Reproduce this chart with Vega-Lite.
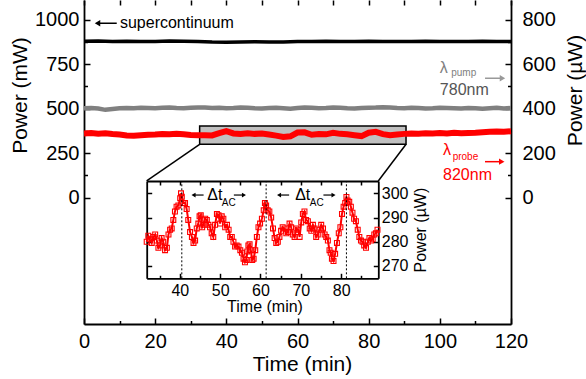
{
  "$schema": "https://vega.github.io/schema/vega-lite/v6.json",
  "width": 427,
  "height": 324,
  "autosize": {"type": "none"},
  "padding": {"left": 84, "top": 0, "right": 75, "bottom": 55},
  "background": "white",
  "config": {
    "view": {"stroke": null},
    "font": "Liberation Sans",
    "axis": {"grid": false, "domainColor": "black", "domainWidth": 1.8, "tickColor": "black", "tickWidth": 1.5, "labelColor": "black", "titleColor": "black", "titleFontWeight": "normal", "labelFont": "Liberation Sans", "titleFont": "Liberation Sans", "labelOverlap": false, "labelFlush": false, "labelBound": false},
    "text": {"font": "Liberation Sans"}
  },
  "datasets": {
    "black": [
      {"t":0,"p":878},{"t":4,"p":879},{"t":8,"p":877},{"t":12,"p":878},{"t":16,"p":876},{"t":20,"p":877},{"t":24,"p":879},{"t":28,"p":878},{"t":32,"p":876},{"t":36,"p":873},{"t":40,"p":872},{"t":44,"p":874},{"t":48,"p":875},{"t":52,"p":873},{"t":56,"p":874},{"t":60,"p":876},{"t":64,"p":877},{"t":68,"p":878},{"t":72,"p":876},{"t":76,"p":877},{"t":80,"p":878},{"t":84,"p":877},{"t":88,"p":876},{"t":92,"p":877},{"t":96,"p":878},{"t":100,"p":877},{"t":104,"p":876},{"t":108,"p":877},{"t":112,"p":878},{"t":116,"p":877},{"t":120,"p":876}
    ],
    "gray": [
      {"t":0,"p":401},{"t":2,"p":402},{"t":4,"p":400},{"t":6,"p":394},{"t":8,"p":398},{"t":10,"p":401},{"t":12,"p":402},{"t":14,"p":401},{"t":16,"p":403},{"t":18,"p":402},{"t":20,"p":401},{"t":22,"p":403},{"t":24,"p":404},{"t":26,"p":402},{"t":28,"p":401},{"t":30,"p":403},{"t":32,"p":405},{"t":34,"p":404},{"t":36,"p":402},{"t":38,"p":403},{"t":40,"p":401},{"t":42,"p":402},{"t":44,"p":404},{"t":46,"p":403},{"t":48,"p":401},{"t":50,"p":400},{"t":52,"p":402},{"t":54,"p":403},{"t":56,"p":401},{"t":58,"p":399},{"t":60,"p":402},{"t":62,"p":404},{"t":64,"p":403},{"t":66,"p":401},{"t":68,"p":402},{"t":70,"p":404},{"t":72,"p":403},{"t":74,"p":401},{"t":76,"p":400},{"t":78,"p":402},{"t":80,"p":403},{"t":82,"p":404},{"t":84,"p":406},{"t":86,"p":404},{"t":88,"p":402},{"t":90,"p":401},{"t":92,"p":403},{"t":94,"p":402},{"t":96,"p":400},{"t":98,"p":401},{"t":100,"p":403},{"t":102,"p":402},{"t":104,"p":401},{"t":106,"p":400},{"t":108,"p":402},{"t":110,"p":401},{"t":112,"p":399},{"t":114,"p":401},{"t":116,"p":403},{"t":118,"p":400},{"t":120,"p":402}
    ],
    "red": [
      {"t":0,"p":288},{"t":2,"p":290},{"t":4,"p":287},{"t":6,"p":289},{"t":8,"p":285},{"t":10,"p":283},{"t":12,"p":279},{"t":14,"p":278},{"t":16,"p":280},{"t":18,"p":282},{"t":20,"p":283},{"t":22,"p":285},{"t":24,"p":284},{"t":26,"p":286},{"t":28,"p":284},{"t":30,"p":281},{"t":32,"p":280},{"t":34,"p":280},{"t":36,"p":279},{"t":38,"p":289},{"t":40,"p":298},{"t":42,"p":288},{"t":44,"p":285},{"t":46,"p":289},{"t":48,"p":286},{"t":50,"p":288},{"t":52,"p":283},{"t":54,"p":278},{"t":56,"p":272},{"t":58,"p":275},{"t":60,"p":292},{"t":62,"p":293},{"t":64,"p":282},{"t":66,"p":285},{"t":68,"p":284},{"t":70,"p":291},{"t":72,"p":286},{"t":74,"p":284},{"t":76,"p":280},{"t":78,"p":276},{"t":80,"p":291},{"t":82,"p":295},{"t":84,"p":285},{"t":86,"p":280},{"t":88,"p":283},{"t":90,"p":286},{"t":92,"p":288},{"t":94,"p":287},{"t":96,"p":289},{"t":98,"p":288},{"t":100,"p":290},{"t":102,"p":288},{"t":104,"p":291},{"t":106,"p":289},{"t":108,"p":290},{"t":110,"p":291},{"t":112,"p":293},{"t":114,"p":295},{"t":116,"p":297},{"t":118,"p":296},{"t":120,"p":298}
    ],
    "inset": [
      {"t":31.8,"p":280},{"t":32.2,"p":282.5},{"t":32.6,"p":281},{"t":33.05,"p":279.5},{"t":33.5,"p":282},{"t":33.9,"p":283},{"t":34.3,"p":280.5},{"t":34.7,"p":277.5},{"t":35.1,"p":278.5},{"t":35.5,"p":281.5},{"t":35.9,"p":280},{"t":36.35,"p":276.5},{"t":36.8,"p":277.5},{"t":37.2,"p":283},{"t":37.6,"p":285},{"t":38.0,"p":285.5},{"t":38.4,"p":289},{"t":38.8,"p":292.5},{"t":39.2,"p":294.5},{"t":39.65,"p":295},{"t":40.1,"p":298},{"t":40.3,"p":300},{"t":40.5,"p":298.6},{"t":40.9,"p":296},{"t":41.3,"p":296},{"t":41.7,"p":293.5},{"t":42.1,"p":289},{"t":42.55,"p":284},{"t":43.0,"p":282},{"t":43.4,"p":279.5},{"t":43.8,"p":280.5},{"t":44.2,"p":285.5},{"t":44.6,"p":287.5},{"t":44.9,"p":290.5},{"t":45.2,"p":291},{"t":45.55,"p":286},{"t":45.9,"p":287},{"t":46.3,"p":289.5},{"t":46.7,"p":289},{"t":47.1,"p":287},{"t":47.5,"p":286},{"t":47.9,"p":283.5},{"t":48.3,"p":282},{"t":48.75,"p":287},{"t":49.2,"p":291.5},{"t":49.6,"p":291},{"t":50.0,"p":287.5},{"t":50.4,"p":290.5},{"t":50.8,"p":289.5},{"t":51.25,"p":286},{"t":51.7,"p":287},{"t":52.1,"p":285},{"t":52.5,"p":282},{"t":52.9,"p":282},{"t":53.3,"p":280},{"t":53.7,"p":278},{"t":54.1,"p":278.5},{"t":54.55,"p":278},{"t":55.0,"p":276.5},{"t":55.4,"p":275.5},{"t":55.8,"p":273},{"t":56.15,"p":271.5},{"t":56.5,"p":272.5},{"t":56.75,"p":276},{"t":57.0,"p":278.5},{"t":57.3,"p":279},{"t":57.6,"p":276.5},{"t":57.95,"p":272.5},{"t":58.3,"p":273},{"t":58.7,"p":276.5},{"t":59.1,"p":282},{"t":59.5,"p":286},{"t":59.9,"p":287.5},{"t":60.35,"p":289.5},{"t":60.8,"p":293},{"t":61.1,"p":296},{"t":61.4,"p":295},{"t":61.8,"p":293},{"t":62.2,"p":292.5},{"t":62.65,"p":290},{"t":63.1,"p":285.5},{"t":63.5,"p":281.5},{"t":63.9,"p":279.5},{"t":64.3,"p":280},{"t":64.7,"p":282},{"t":65.1,"p":284.5},{"t":65.5,"p":286},{"t":65.95,"p":285.5},{"t":66.4,"p":283.5},{"t":66.8,"p":284},{"t":67.2,"p":287.5},{"t":67.6,"p":286},{"t":68.0,"p":283},{"t":68.45,"p":282},{"t":68.9,"p":285.5},{"t":69.3,"p":285},{"t":69.7,"p":282},{"t":70.1,"p":288},{"t":70.5,"p":291.5},{"t":70.9,"p":292.5},{"t":71.3,"p":289},{"t":71.75,"p":288.5},{"t":72.2,"p":285.5},{"t":72.6,"p":284.5},{"t":73.0,"p":287},{"t":73.4,"p":285.5},{"t":73.8,"p":282},{"t":74.2,"p":283},{"t":74.6,"p":285},{"t":75.05,"p":287},{"t":75.5,"p":285.5},{"t":75.9,"p":283},{"t":76.3,"p":282},{"t":76.7,"p":280.5},{"t":77.1,"p":276.5},{"t":77.4,"p":275.5},{"t":77.7,"p":273},{"t":78.1,"p":272},{"t":78.5,"p":275},{"t":78.95,"p":279.5},{"t":79.4,"p":283.5},{"t":79.8,"p":286},{"t":80.2,"p":291.5},{"t":80.6,"p":294.5},{"t":81.0,"p":296},{"t":81.3,"p":298.5},{"t":81.6,"p":297},{"t":82.0,"p":296.5},{"t":82.4,"p":294.5},{"t":82.8,"p":292},{"t":83.2,"p":289.5},{"t":83.65,"p":288.5},{"t":84.1,"p":285},{"t":84.5,"p":282},{"t":84.9,"p":280.5},{"t":85.3,"p":280},{"t":85.7,"p":278.5},{"t":86.15,"p":277.5},{"t":86.6,"p":280},{"t":87.0,"p":281.5},{"t":87.4,"p":280.5},{"t":87.8,"p":281},{"t":88.2,"p":283},{"t":88.6,"p":283.5},{"t":89.0,"p":285}
    ]
  },
  "layer": [
    {
      "layer": [
        {
          "data": {"name": "black"},
          "mark": {"type": "line", "color": "black", "strokeWidth": 3.5},
          "encoding": {
            "x": {"field": "t", "type": "quantitative", "scale": {"domain": [0, 120], "nice": false, "zero": false},
              "axis": {"orient": "bottom", "values": [0,20,40,60,80,100,120], "format": "d", "tickSize": -6, "labelPadding": 13, "labelFontSize": 20, "title": "Time (min)", "titleFontSize": 21, "titleX": 218, "titleY": 40, "titleBaseline": "middle"}},
            "y": {"field": "p", "type": "quantitative", "scale": {"domain": [-710.7, 1109.6], "nice": false, "zero": false},
              "axis": {"orient": "left", "values": [0,250,500,750,1000], "format": "d", "tickSize": -6, "labelPadding": 11, "labelFontSize": 20, "title": "Power (mW)", "titleFontSize": 21, "titleX": -64, "titleY": 95, "titleBaseline": "middle", "titleAngle": 270}}
          }
        },
        {
          "data": {"values": [{"t": 10.1, "p": 979, "s": "supercontinuum"}]},
          "mark": {"type": "text", "align": "left", "baseline": "middle", "fontSize": 16, "color": "black"},
          "encoding": {
            "x": {"field": "t", "type": "quantitative", "axis": {"orient": "bottom", "values": [10,30,50,70,90,110], "labels": false, "domain": false, "tickSize": -3.5, "title": null}},
            "y": {"field": "p", "type": "quantitative", "axis": {"orient": "left", "values": [125,375,625,875], "labels": false, "domain": false, "tickSize": -3.5, "title": null}},
            "text": {"field": "s"}
          }
        },
        {
          "data": {"values": [{"t": 4.3, "t2": 9.2, "p": 979}]},
          "mark": {"type": "rule", "color": "black", "strokeWidth": 1.5},
          "encoding": {
            "x": {"field": "t", "type": "quantitative", "axis": {"orient": "top", "values": [0,10,20,30,40,50,60,70,80,90,100,110,120], "labels": false, "domain": false, "tickSize": -5, "title": null}},
            "x2": {"field": "t2"},
            "y": {"field": "p", "type": "quantitative", "axis": null}
          }
        },
        {
          "data": {"values": [{"t": 3.8, "p": 979}]},
          "mark": {"type": "point", "shape": "triangle-left", "filled": true, "size": 40, "color": "black", "opacity": 1},
          "encoding": {
            "x": {"field": "t", "type": "quantitative", "axis": null},
            "y": {"field": "p", "type": "quantitative", "axis": null}
          }
        }
      ],
      "resolve": {"axis": {"x": "independent", "y": "independent"}}
    },
    {
      "layer": [
        {
          "data": {"values": [{"a": 32.5, "b": 90.5, "lo": 239, "hi": 321}]},
          "mark": {"type": "rect", "fill": "#c0c0c0", "stroke": "black", "strokeWidth": 1.5},
          "encoding": {
            "x": {"field": "a", "type": "quantitative", "scale": {"domain": [0, 120], "nice": false, "zero": false}, "axis": null},
            "x2": {"field": "b"},
            "y": {"field": "lo", "type": "quantitative", "scale": {"domain": [-568.56, 887.68], "nice": false, "zero": false},
              "axis": {"orient": "right", "values": [0,200,400,600,800], "format": "d", "tickSize": -6, "labelPadding": 17, "labelFontSize": 20, "title": "Power (µW)", "titleFontSize": 21, "titleX": 64, "titleY": 90, "titleBaseline": "middle", "titleAngle": 270}},
            "y2": {"field": "hi"}
          }
        },
        {
          "data": {"values": [{"a": 32.5, "lo": 239, "b": 17.6, "hi": 74.2}, {"a": 90.5, "lo": 239, "b": 82.7, "hi": 74.2}]},
          "mark": {"type": "rule", "color": "black", "strokeWidth": 1.5},
          "encoding": {
            "x": {"field": "a", "type": "quantitative", "axis": null},
            "x2": {"field": "b"},
            "y": {"field": "lo", "type": "quantitative", "axis": {"orient": "right", "values": [100,300,500,700], "labels": false, "domain": false, "tickSize": -3.5, "title": null}},
            "y2": {"field": "hi"}
          }
        },
        {
          "data": {"name": "gray"},
          "mark": {"type": "line", "color": "#808080", "strokeWidth": 4.5},
          "encoding": {
            "x": {"field": "t", "type": "quantitative", "axis": null},
            "y": {"field": "p", "type": "quantitative", "axis": null}
          }
        },
        {
          "data": {"name": "red"},
          "mark": {"type": "line", "color": "#ff0000", "strokeWidth": 6},
          "encoding": {
            "x": {"field": "t", "type": "quantitative", "axis": null},
            "y": {"field": "p", "type": "quantitative", "axis": null}
          }
        },
        {
          "data": {"values": [{"t": 100, "p": 580, "s": "λ"}]},
          "mark": {"type": "text", "align": "left", "baseline": "middle", "fontSize": 16, "color": "#808080"},
          "encoding": {
            "x": {"field": "t", "type": "quantitative", "axis": null},
            "y": {"field": "p", "type": "quantitative", "axis": null},
            "text": {"field": "s"}
          }
        },
        {
          "data": {"values": [{"t": 103.2, "p": 560, "s": "pump"}]},
          "mark": {"type": "text", "align": "left", "baseline": "middle", "fontSize": 10, "color": "#808080"},
          "encoding": {
            "x": {"field": "t", "type": "quantitative", "axis": null},
            "y": {"field": "p", "type": "quantitative", "axis": null},
            "text": {"field": "s"}
          }
        },
        {
          "data": {"values": [{"t": 100, "p": 483, "s": "780nm"}]},
          "mark": {"type": "text", "align": "left", "baseline": "middle", "fontSize": 16, "color": "#555555"},
          "encoding": {
            "x": {"field": "t", "type": "quantitative", "axis": null},
            "y": {"field": "p", "type": "quantitative", "axis": null},
            "text": {"field": "s"}
          }
        },
        {
          "data": {"values": [{"t": 100.9, "p": 213, "s": "λ"}, {"t": 100.9, "p": 101, "s": "820nm"}]},
          "mark": {"type": "text", "align": "left", "baseline": "middle", "fontSize": 16, "color": "#ff0000"},
          "encoding": {
            "x": {"field": "t", "type": "quantitative", "axis": null},
            "y": {"field": "p", "type": "quantitative", "axis": null},
            "text": {"field": "s"}
          }
        },
        {
          "data": {"values": [{"t": 103.6, "p": 184, "s": "probe"}]},
          "mark": {"type": "text", "align": "left", "baseline": "middle", "fontSize": 10, "color": "#ff0000"},
          "encoding": {
            "x": {"field": "t", "type": "quantitative", "axis": null},
            "y": {"field": "p", "type": "quantitative", "axis": null},
            "text": {"field": "s"}
          }
        },
        {
          "data": {"values": [{"t": 112.7, "t2": 117.0, "p": 536}]},
          "mark": {"type": "rule", "color": "#999999", "strokeWidth": 1.5},
          "encoding": {
            "x": {"field": "t", "type": "quantitative", "axis": null},
            "x2": {"field": "t2"},
            "y": {"field": "p", "type": "quantitative", "axis": null}
          }
        },
        {
          "data": {"values": [{"t": 117.6, "p": 536}]},
          "mark": {"type": "point", "shape": "triangle-right", "filled": true, "size": 40, "color": "#999999", "opacity": 1},
          "encoding": {
            "x": {"field": "t", "type": "quantitative", "axis": null},
            "y": {"field": "p", "type": "quantitative", "axis": null}
          }
        },
        {
          "data": {"values": [{"t": 112.7, "t2": 117.0, "p": 161}]},
          "mark": {"type": "rule", "color": "#ff0000", "strokeWidth": 1.5},
          "encoding": {
            "x": {"field": "t", "type": "quantitative", "axis": null},
            "x2": {"field": "t2"},
            "y": {"field": "p", "type": "quantitative", "axis": null}
          }
        },
        {
          "data": {"values": [{"t": 117.4, "p": 161}]},
          "mark": {"type": "point", "shape": "triangle-right", "filled": true, "size": 40, "color": "#ff0000", "opacity": 1},
          "encoding": {
            "x": {"field": "t", "type": "quantitative", "axis": null},
            "y": {"field": "p", "type": "quantitative", "axis": null}
          }
        }
      ],
      "resolve": {"axis": {"y": "independent"}}
    },
    {
      "layer": [
        {
          "data": {"name": "inset"},
          "mark": {"type": "line", "color": "#ff0000", "strokeWidth": 2},
          "encoding": {
            "x": {"field": "t", "type": "quantitative", "scale": {"domain": [31.8, 89.2], "range": [62.7, 294.3], "nice": false, "zero": false},
              "axis": {"orient": "bottom", "offset": -45.7, "values": [40,50,60,70,80], "format": "d", "tickSize": -5, "labelPadding": 9.5, "labelFontSize": 16, "title": "Time (min)", "titleFontSize": 16, "titleX": 180.5, "titleY": 28, "titleBaseline": "middle"}},
            "y": {"field": "p", "type": "quantitative", "scale": {"domain": [264.9, 305.1], "range": [278.3, 181], "nice": false, "zero": false},
              "axis": {"orient": "right", "offset": -132.7, "values": [270, 280, 290, 300], "format": "d", "tickSize": -5, "labelPadding": 8, "labelFontSize": 16, "title": "Power (µW)", "titleFontSize": 16, "titleX": 41.7, "titleY": 229.6, "titleBaseline": "middle", "titleAngle": 270}}
          }
        },
        {
          "data": {"name": "inset"},
          "mark": {"type": "point", "shape": "square", "filled": false, "size": 24, "color": "#ff0000", "strokeWidth": 1.1, "opacity": 1},
          "encoding": {
            "x": {"field": "t", "type": "quantitative", "axis": {"orient": "bottom", "offset": -45.7, "values": [35,45,55,65,75,85], "labels": false, "domain": false, "tickSize": -3, "title": null}},
            "y": {"field": "p", "type": "quantitative", "axis": null}
          }
        },
        {
          "data": {"values": [{"t": 40.5}, {"t": 61.4}, {"t": 81.3}]},
          "mark": {"type": "rule", "color": "black", "strokeWidth": 1, "strokeDash": [2, 2]},
          "encoding": {
            "x": {"field": "t", "type": "quantitative", "axis": {"orient": "top", "offset": -181, "values": [35,40,45,50,55,60,65,70,75,80,85], "labels": false, "tickSize": -4, "title": null}},
            "y": {"datum": 264.9, "type": "quantitative", "axis": {"orient": "left", "offset": -62.7, "values": [270, 280, 290, 300], "labels": false, "tickSize": -5, "title": null}},
            "y2": {"datum": 305.1}
          }
        },
        {
          "data": {"values": [{"t": 46.8, "p": 299.3, "s": "Δt"}, {"t": 68.6, "p": 299.3, "s": "Δt"}]},
          "mark": {"type": "text", "align": "left", "baseline": "middle", "fontSize": 16, "color": "black"},
          "encoding": {
            "x": {"field": "t", "type": "quantitative", "axis": null},
            "y": {"field": "p", "type": "quantitative", "axis": null},
            "text": {"field": "s"}
          }
        },
        {
          "data": {"values": [{"t": 50.4, "p": 296, "s": "AC"}, {"t": 72.2, "p": 296, "s": "AC"}]},
          "mark": {"type": "text", "align": "left", "baseline": "middle", "fontSize": 10, "color": "black"},
          "encoding": {
            "x": {"field": "t", "type": "quantitative", "axis": null},
            "y": {"field": "p", "type": "quantitative", "axis": null},
            "text": {"field": "s"}
          }
        },
        {
          "data": {"values": [{"t": 43.6, "t2": 45.9, "p": 299.3}, {"t": 53.4, "t2": 55.6, "p": 299.3}, {"t": 64.9, "t2": 67.1, "p": 299.3}, {"t": 75.6, "t2": 77.8, "p": 299.3}]},
          "mark": {"type": "rule", "color": "black", "strokeWidth": 1.2},
          "encoding": {
            "x": {"field": "t", "type": "quantitative", "axis": null},
            "x2": {"field": "t2"},
            "y": {"field": "p", "type": "quantitative", "axis": null}
          }
        },
        {
          "data": {"values": [{"t": 43.4, "p": 299.3}, {"t": 64.6, "p": 299.3}]},
          "mark": {"type": "point", "shape": "triangle-left", "filled": true, "size": 22, "color": "black", "opacity": 1},
          "encoding": {
            "x": {"field": "t", "type": "quantitative", "axis": null},
            "y": {"field": "p", "type": "quantitative", "axis": null}
          }
        },
        {
          "data": {"values": [{"t": 55.9, "p": 299.3}, {"t": 78.1, "p": 299.3}]},
          "mark": {"type": "point", "shape": "triangle-right", "filled": true, "size": 22, "color": "black", "opacity": 1},
          "encoding": {
            "x": {"field": "t", "type": "quantitative", "axis": null},
            "y": {"field": "p", "type": "quantitative", "axis": null}
          }
        }
      ],
      "resolve": {"axis": {"x": "independent", "y": "independent"}}
    }
  ],
  "resolve": {"scale": {"x": "independent", "y": "independent"}, "axis": {"x": "independent", "y": "independent"}}
}
